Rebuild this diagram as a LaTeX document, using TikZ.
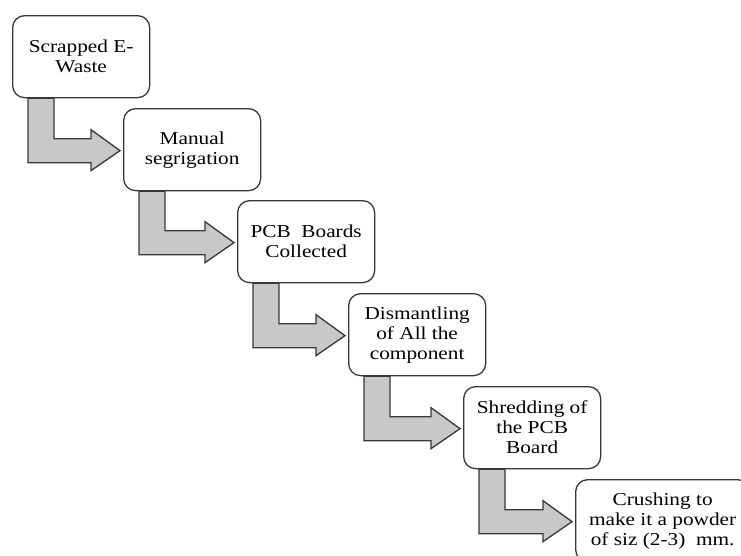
\documentclass[tikz,border=0pt]{standalone}
\usepackage{fontspec}
\setmainfont{Liberation Serif}[FakeStretch=1.17]
\usetikzlibrary{calc}
\definecolor{arrfill}{HTML}{C8C8C8}
\definecolor{edge}{HTML}{383838}
\tikzset{
  stepbox/.style={draw=edge, line width=1.3pt, rounded corners=12pt, fill=white,
    anchor=north west, minimum width=137pt, minimum height=82pt, align=center,
    inner sep=2pt, font=\fontsize{18.2}{20}\selectfont},
  bentarrow/.style={draw=edge, line width=1.3pt, fill=arrfill, line join=miter}
}
\newcommand\bentarr[2]{%
  \draw[bentarrow] let \p1=(#1.south west), \p2=(#2.west) in
    (\x1+16pt,\y1) -- (\x1+42pt,\y1) -- (\x1+42pt,\y2+11pt) -- (\x2-32pt,\y2+11pt)
    -- (\x2-32pt,\y2+20pt) -- (\x2-3pt,\y2-1pt) -- (\x2-32pt,\y2-21pt)
    -- (\x2-32pt,\y2-13pt) -- (\x1+16pt,\y2-13pt) -- cycle;}
\begin{document}
\begin{tikzpicture}[x=1pt,y=-1pt]
\useasboundingbox (0,0) rectangle (741,555);
\node[stepbox] (n1) at (12,15) {Scrapped E-\\Waste};
\node[stepbox] (n2) at (123,108) {Manual\\segrigation};
\node[stepbox] (n3) at (237,200) {PCB\ \ Boards\\Collected};
\node[stepbox] (n4) at (348,293) {Dismantling\\of All\ the\\component};
\node[stepbox] (n5) at (463,386) {Shredding of\\the PCB\\Board};
\node[stepbox, minimum width=174pt] (n6) at (575,479) {Crushing to\\make\ it a powder\\of siz\ (2-3)\ \ mm.};
\bentarr{n1}{n2}
\bentarr{n2}{n3}
\bentarr{n3}{n4}
\bentarr{n4}{n5}
\bentarr{n5}{n6}
\end{tikzpicture}
\end{document}
